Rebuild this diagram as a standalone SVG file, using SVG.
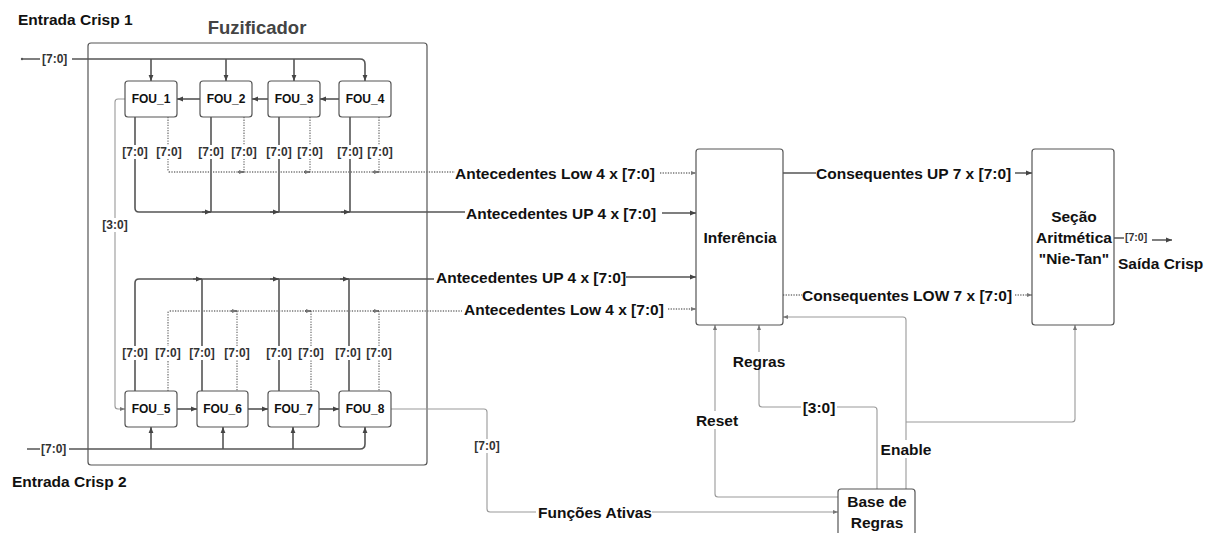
<svg xmlns="http://www.w3.org/2000/svg" width="1219" height="533" viewBox="0 0 1219 533">
<defs>
<style>
text{font-family:"Liberation Sans",Arial,sans-serif;font-weight:bold;dominant-baseline:central}
.big{font-size:15.5px;fill:#111}
.sm{font-size:12px;fill:#333}
.ttl{font-size:18.5px;fill:#444}
.mid{text-anchor:middle}
.box{fill:#fff;stroke:#555;stroke-width:1.2}
.ln{fill:none;stroke:#555;stroke-width:1.6}
.lt{fill:none;stroke:#999;stroke-width:1.1}
.dt{fill:none;stroke:#777;stroke-width:1.3;stroke-dasharray:1.3 1.3}
.bg{fill:#fff}
</style>
<marker id="a" viewBox="0 0 10 10" refX="10" refY="5" markerWidth="7" markerHeight="6" markerUnits="userSpaceOnUse" orient="auto"><path d="M0,1 L10,5 L0,9 z" fill="#444"/></marker>
<marker id="ag" viewBox="0 0 10 10" refX="10" refY="5" markerWidth="6" markerHeight="5" markerUnits="userSpaceOnUse" orient="auto"><path d="M0,1 L10,5 L0,9 z" fill="#777"/></marker>
</defs>
<rect width="1219" height="533" fill="#fff"/>

<g id="fuzificador">
<rect class="box" x="88" y="43" width="339" height="422" rx="3"/>
<text class="ttl mid" x="257" y="27">Fuzificador</text>
</g>

<g id="connectors">
<!-- top input -->
<circle cx="22" cy="59" r="1.2" fill="#555"/>
<path class="ln" d="M22,59 H40 M72,59 H360 Q365,59 365,64 V81" marker-end="url(#a)"/>
<path class="ln" d="M151,59 V81" marker-end="url(#a)"/>
<path class="ln" d="M226,59 V81" marker-end="url(#a)"/>
<path class="ln" d="M294,59 V81" marker-end="url(#a)"/>
<!-- top chain -->
<path class="ln" d="M339,99 H320" marker-end="url(#a)"/>
<path class="ln" d="M268,99 H252" marker-end="url(#a)"/>
<path class="ln" d="M200,99 H177" marker-end="url(#a)"/>
<!-- FOU_1 to FOU_5 -->
<path class="lt" d="M125,99 H118 Q115,99 115,102 V406 Q115,409 118,409 H125" marker-end="url(#ag)"/>
<!-- top solid outputs -->
<path class="ln" d="M135,117 V208 Q135,212 139,212 H436"/>
<path class="ln" d="M211,117 V212 M279,117 V212 M350,117 V212"/>
<path class="ln" d="M202,212 H211" marker-end="url(#a)"/>
<path class="ln" d="M270,212 H279" marker-end="url(#a)"/>
<path class="ln" d="M341,212 H350" marker-end="url(#a)"/>
<!-- top dotted outputs -->
<path class="dt" d="M168,117 V170 Q168,172 170,172 H455"/>
<path class="dt" d="M244,117 V172 M310,117 V172 M379,117 V172"/>
<path class="ln" d="M238,172 H244" marker-end="url(#ag)" stroke-width="0"/>
<path class="ln" d="M304,172 H310" marker-end="url(#ag)" stroke-width="0"/>
<path class="ln" d="M373,172 H379" marker-end="url(#ag)" stroke-width="0"/>
<!-- to inferencia -->
<path class="dt" d="M660,173 H696" marker-end="url(#ag)"/>
<path class="ln" d="M436,212 H465 M662,213 H696" marker-end="url(#a)"/>
<path class="ln" d="M626,277 H696" marker-end="url(#a)"/>
<path class="dt" d="M668,309 H696" marker-end="url(#ag)"/>
<!-- bottom solid -->
<path class="ln" d="M135,391 V283 Q135,279 139,279 H434"/>
<path class="ln" d="M202,279 V391 M279,279 V391 M349,279 V391"/>
<path class="ln" d="M193,279 H202" marker-end="url(#a)"/>
<path class="ln" d="M270,279 H279" marker-end="url(#a)"/>
<path class="ln" d="M340,279 H349" marker-end="url(#a)"/>
<!-- bottom dotted -->
<path class="dt" d="M168,391 V313 Q168,311 170,311 H462"/>
<path class="dt" d="M237,311 V391 M311,311 V391 M379,311 V391"/>
<path class="ln" d="M231,311 H237" marker-end="url(#ag)" stroke-width="0"/>
<path class="ln" d="M305,311 H311" marker-end="url(#ag)" stroke-width="0"/>
<path class="ln" d="M373,311 H379" marker-end="url(#ag)" stroke-width="0"/>
<!-- bottom chain -->
<path class="ln" d="M177,409 H197" marker-end="url(#a)"/>
<path class="ln" d="M248,409 H268" marker-end="url(#a)"/>
<path class="ln" d="M319,409 H339" marker-end="url(#a)"/>
<!-- bottom input -->
<path class="ln" d="M27,449 H40 M69,449 H360 Q365,449 365,444 V427" marker-end="url(#a)"/>
<path class="ln" d="M151,449 V427" marker-end="url(#a)"/>
<path class="ln" d="M223,449 V427" marker-end="url(#a)"/>
<path class="ln" d="M293,449 V427" marker-end="url(#a)"/>
<!-- FOU_8 to base -->
<path class="lt" d="M391,409 H484 Q487,409 487,412 V509 Q487,512 490,512 H838" marker-end="url(#ag)"/>
<!-- Reset -->
<path class="lt" d="M838,497 H718 Q715,497 715,494 V325" marker-end="url(#ag)"/>
<!-- Regras -->
<path class="lt" d="M877,490 V410 Q877,407 874,407 H762 Q759,407 759,404 V325" marker-end="url(#ag)"/>
<!-- Enable -->
<path class="lt" d="M906,490 V320 Q906,317 903,317 H783" marker-end="url(#ag)"/>
<path class="lt" d="M906,422 H1072 Q1075,422 1075,419 V325" marker-end="url(#ag)"/>
<!-- consequentes -->
<path class="ln" d="M783,173 H816 M1015,173 H1032" marker-end="url(#a)"/>
<path class="dt" d="M783,295 H802 M1015,295 H1032" marker-end="url(#ag)"/>
<!-- output -->
<path class="ln" d="M1114,238 H1124 M1152,240 H1172" marker-end="url(#a)"/>
</g>

<g id="labels">
<text class="big" x="18" y="19">Entrada Crisp 1</text>
<text class="big" x="12" y="481">Entrada Crisp 2</text>
<text class="sm" x="42" y="59">[7:0]</text>
<text class="sm" x="41" y="449">[7:0]</text>
<rect class="bg" x="102" y="218" width="26" height="14"/>
<text class="sm mid" x="115" y="225">[3:0]</text>
<g class="sm mid">
<rect class="bg" x="122" y="145" width="26" height="14"/><text class="sm mid" x="135" y="152">[7:0]</text>
<rect class="bg" x="156" y="145" width="26" height="14"/><text class="sm mid" x="169" y="152">[7:0]</text>
<rect class="bg" x="198" y="145" width="26" height="14"/><text class="sm mid" x="211" y="152">[7:0]</text>
<rect class="bg" x="231" y="145" width="26" height="14"/><text class="sm mid" x="244" y="152">[7:0]</text>
<rect class="bg" x="266" y="145" width="26" height="14"/><text class="sm mid" x="279" y="152">[7:0]</text>
<rect class="bg" x="297" y="145" width="26" height="14"/><text class="sm mid" x="310" y="152">[7:0]</text>
<rect class="bg" x="337" y="145" width="26" height="14"/><text class="sm mid" x="350" y="152">[7:0]</text>
<rect class="bg" x="367" y="145" width="26" height="14"/><text class="sm mid" x="380" y="152">[7:0]</text>
<rect class="bg" x="122" y="346" width="26" height="14"/><text class="sm mid" x="135" y="353">[7:0]</text>
<rect class="bg" x="155" y="346" width="26" height="14"/><text class="sm mid" x="168" y="353">[7:0]</text>
<rect class="bg" x="189" y="346" width="26" height="14"/><text class="sm mid" x="202" y="353">[7:0]</text>
<rect class="bg" x="224" y="346" width="26" height="14"/><text class="sm mid" x="237" y="353">[7:0]</text>
<rect class="bg" x="266" y="346" width="26" height="14"/><text class="sm mid" x="279" y="353">[7:0]</text>
<rect class="bg" x="298" y="346" width="26" height="14"/><text class="sm mid" x="311" y="353">[7:0]</text>
<rect class="bg" x="335" y="346" width="26" height="14"/><text class="sm mid" x="348" y="353">[7:0]</text>
<rect class="bg" x="366" y="346" width="26" height="14"/><text class="sm mid" x="379" y="353">[7:0]</text>
</g>
<text class="big" x="455" y="173">Antecedentes Low 4 x [7:0]</text>
<text class="big" x="466" y="213">Antecedentes UP 4 x [7:0]</text>
<text class="big" x="436" y="277">Antecedentes UP 4 x [7:0]</text>
<text class="big" x="464" y="309">Antecedentes Low 4 x [7:0]</text>
<text class="big" x="816" y="173">Consequentes UP 7 x [7:0]</text>
<text class="big" x="802" y="295">Consequentes LOW 7 x [7:0]</text>
<text class="sm" x="1125" y="237" style="font-size:10.5px">[7:0]</text>
<text class="big" x="1118" y="263">Saída Crisp</text>
<rect class="bg" x="472" y="439" width="30" height="14"/>
<text class="sm mid" x="487" y="446">[7:0]</text>
<rect class="bg" x="536" y="503" width="116" height="18"/>
<text class="big" x="538" y="512">Funções Ativas</text>
<rect class="bg" x="692" y="411" width="50" height="18"/>
<text class="big mid" x="717" y="420">Reset</text>
<rect class="bg" x="731" y="352" width="57" height="18"/>
<text class="big mid" x="759" y="361">Regras</text>
<rect class="bg" x="801" y="398" width="36" height="18"/>
<text class="big mid" x="819" y="407">[3:0]</text>
<rect class="bg" x="879" y="440" width="56" height="18"/>
<text class="big mid" x="906" y="449">Enable</text>
</g>

<g id="FOU_1"><rect class="box" x="125" y="81" width="52" height="36" rx="3"/><text class="sm mid" x="151" y="99" style="fill:#111">FOU_1</text></g>
<g id="FOU_2"><rect class="box" x="200" y="81" width="52" height="36" rx="3"/><text class="sm mid" x="226" y="99" style="fill:#111">FOU_2</text></g>
<g id="FOU_3"><rect class="box" x="268" y="81" width="52" height="36" rx="3"/><text class="sm mid" x="294" y="99" style="fill:#111">FOU_3</text></g>
<g id="FOU_4"><rect class="box" x="339" y="81" width="52" height="36" rx="3"/><text class="sm mid" x="365" y="99" style="fill:#111">FOU_4</text></g>
<g id="FOU_5"><rect class="box" x="125" y="391" width="52" height="36" rx="3"/><text class="sm mid" x="151" y="409" style="fill:#111">FOU_5</text></g>
<g id="FOU_6"><rect class="box" x="197" y="391" width="51" height="36" rx="3"/><text class="sm mid" x="222.5" y="409" style="fill:#111">FOU_6</text></g>
<g id="FOU_7"><rect class="box" x="268" y="391" width="51" height="36" rx="3"/><text class="sm mid" x="293.5" y="409" style="fill:#111">FOU_7</text></g>
<g id="FOU_8"><rect class="box" x="339" y="391" width="52" height="36" rx="3"/><text class="sm mid" x="365" y="409" style="fill:#111">FOU_8</text></g>

<g id="inferencia"><rect class="box" x="696" y="149" width="87" height="176" rx="3"/><text class="big mid" x="740" y="237">Inferência</text></g>
<g id="secao"><rect class="box" x="1032" y="149" width="82" height="176" rx="3"/>
<text class="big mid" x="1074" y="216">Seção</text><text class="big mid" x="1074" y="237">Aritmética</text><text class="big mid" x="1074" y="258">"Nie-Tan"</text></g>
<g id="base"><rect class="box" x="838" y="489" width="77" height="60" rx="3"/>
<text class="big mid" x="877" y="501">Base de</text><text class="big mid" x="877" y="522">Regras</text></g>
</svg>
